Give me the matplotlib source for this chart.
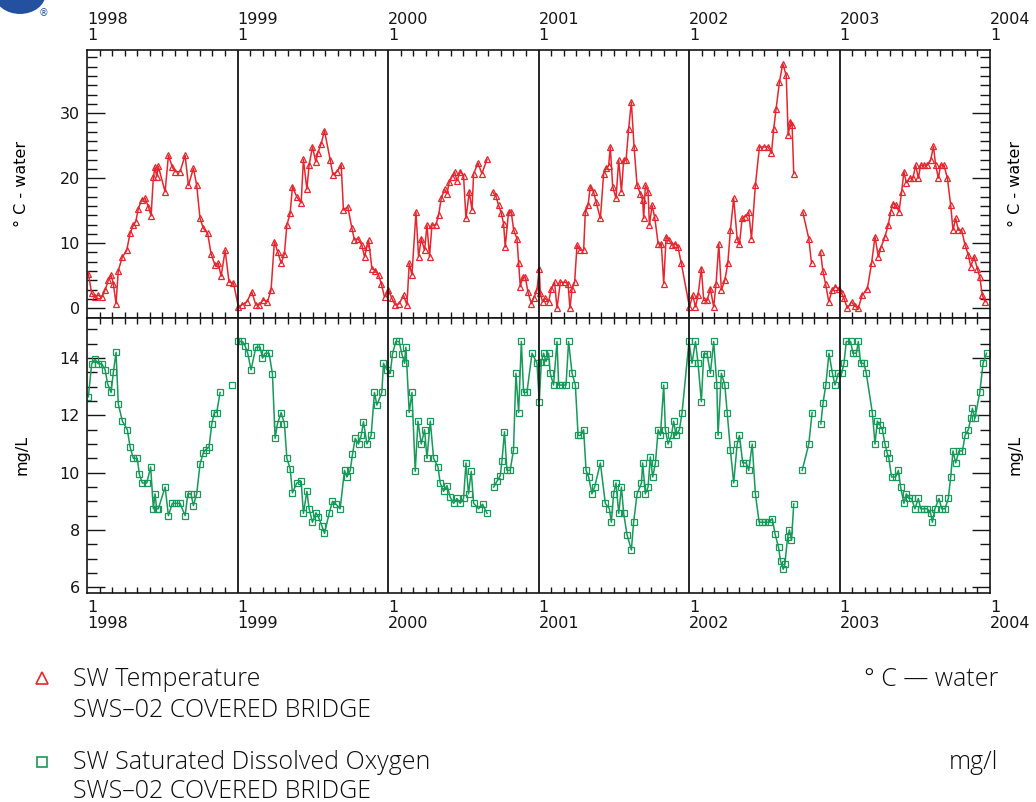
import numpy as np
import matplotlib.pyplot as plt
from matplotlib.ticker import FixedLocator, AutoMinorLocator
from matplotlib.lines import Line2D
from matplotlib.patches import Circle

nan = np.nan
years = [1998, 1999, 2000, 2001, 2002, 2003]

# SW Temperature (deg C), sample times as fraction of the year
temp98_f = [0.009, 0.031, 0.053, 0.075, 0.098, 0.12, 0.142, 0.16, 0.175, 0.193, 0.208, 0.235, 0.264, 0.286, 0.308,
            0.324, 0.341, 0.364, 0.386, 0.408, 0.426, 0.441, 0.452, 0.463, 0.474, 0.519, 0.541, 0.567, 0.585, 0.618,
            0.652, 0.674, 0.707, 0.729, 0.751, 0.773, 0.802, 0.824, 0.851, 0.873, 0.891, 0.918, 0.944, 0.973]
temp98_v = [5.3, 2.3, 1.7, 2.0, 1.7, 2.8, 4.3, 5.1, 3.8, 0.7, 5.8, 7.9, 8.9, 11.5, 12.8,
            13.3, 15.3, 16.7, 16.9, 15.6, 14.2, 20.2, 21.7, 20.2, 21.8, 17.9, 23.5, 21.7, 21.0, 21.0,
            23.5, 18.9, 21.5, 18.9, 13.8, 12.3, 11.5, 8.4, 6.6, 6.9, 4.9, 8.9, 4.0, 3.9]
temp99_f = [0.006, 0.028, 0.062, 0.095, 0.122, 0.144, 0.172, 0.199, 0.223, 0.245, 0.267, 0.29, 0.312, 0.328, 0.35,
            0.365, 0.394, 0.423, 0.438, 0.461, 0.476, 0.498, 0.52, 0.534, 0.556, 0.578, 0.616, 0.634, 0.66, 0.689,
            0.704, 0.733, 0.76, 0.777, 0.8, 0.826, 0.844, 0.86, 0.871, 0.893, 0.915, 0.937, 0.955, 0.977]
temp99_v = [0.2, 0.5, 1.0, 2.5, 0.5, 0.5, 1.3, 1.0, 2.8, 10.2, 8.7, 6.9, 8.4, 12.8, 14.6,
            18.7, 17.1, 16.2, 22.9, 18.3, 22.0, 24.8, 22.5, 23.9, 25.3, 27.3, 22.8, 20.5, 21.0, 22.0,
            15.1, 15.6, 12.3, 10.5, 10.7, 9.7, 7.9, 9.4, 10.5, 6.1, 5.8, 5.1, 3.8, 1.7]
temp00_f = [0.003, 0.026, 0.048, 0.074, 0.103, 0.126, 0.141, 0.159, 0.186, 0.203, 0.221, 0.243, 0.259, 0.276, 0.292,
            0.318, 0.336, 0.354, 0.376, 0.392, 0.407, 0.425, 0.442, 0.458, 0.48, 0.502, 0.518, 0.54, 0.558, 0.569,
            0.598, 0.624, 0.658, 0.676, 0.695, 0.717, 0.735, 0.753, 0.768, 0.779, 0.801, 0.819, 0.835, 0.857, 0.868,
            0.879, 0.894, 0.912, 0.93, 0.952, 0.967, 0.99]
temp00_v = [2.8, 1.5, 0.5, 0.7, 2.0, 0.5, 6.9, 5.1, 14.8, 7.9, 10.7, 8.9, 12.8, 7.9, 12.8,
            12.8, 14.3, 16.9, 18.3, 17.6, 19.4, 20.2, 21.0, 19.6, 21.0, 20.4, 13.8, 17.9, 15.1, 20.7,
            22.3, 20.7, 22.9, nan, 17.9, 17.2, 15.8, 14.6, 13.0, 9.4, 14.8, 14.8, 12.0, 10.7, 6.9,
            3.3, 4.8, 4.8, 2.5, 0.7, 1.5, 2.8]
temp01_f = [0.005, 0.012, 0.027, 0.045, 0.067, 0.085, 0.107, 0.123, 0.145, 0.174, 0.196, 0.209, 0.223, 0.24, 0.256,
            0.278, 0.3, 0.311, 0.329, 0.344, 0.366, 0.382, 0.411, 0.433, 0.449, 0.466, 0.477, 0.493, 0.515, 0.533,
            0.551, 0.566, 0.582, 0.599, 0.617, 0.635, 0.655, 0.677, 0.692, 0.699, 0.71, 0.728, 0.737, 0.755, 0.772,
            0.795, 0.816, 0.832, 0.848, 0.865, 0.888, 0.91, 0.927, 0.949]
temp01_v = [6.1, 2.3, 1.0, 1.5, 1.0, 3.0, 4.0, 0.0, 4.0, 4.0, 3.8, 0.0, 3.0, 4.0, 9.7,
            8.9, 8.9, 14.8, 15.8, 18.7, 17.9, 16.4, 13.8, 20.7, 21.6, 21.9, 24.8, 18.7, 16.9, 22.8,
            17.9, 22.8, 22.8, 27.6, 31.7, 24.8, 18.9, 17.6, 16.6, 13.8, 18.9, 17.9, 12.8, 15.8, 14.0,
            9.9, 9.9, 3.8, 11.0, 10.5, 9.7, 9.9, 9.4, 6.9]
temp02_f = [0.003, 0.025, 0.043, 0.06, 0.082, 0.098, 0.12, 0.142, 0.164, 0.18, 0.198, 0.215, 0.238, 0.258, 0.275,
            0.297, 0.32, 0.335, 0.353, 0.375, 0.397, 0.415, 0.441, 0.468, 0.497, 0.526, 0.548, 0.563, 0.579, 0.601,
            0.623, 0.646, 0.659, 0.674, 0.685, 0.696, 0.726, 0.756, 0.796, 0.814, 0.844, 0.874, 0.889, 0.907, 0.929,
            0.951, 0.973, 0.995]
temp02_v = [0.2, 2.0, 0.2, 2.0, 6.1, 1.2, 1.2, 3.0, 0.2, 3.8, 9.9, 2.8, 4.3, 6.9, 12.0,
            16.9, 10.7, 9.8, 13.8, 14.1, 14.8, 10.7, 18.9, 24.8, 24.8, 24.8, 23.8, 27.6, 30.7, 34.8,
            37.6, 35.8, 26.6, 28.7, 28.2, 20.7, nan, 14.8, 10.7, 6.9, nan, 8.7, 5.8, 3.8, 1.0,
            2.8, 3.3, 3.0]
temp03_f = [0.014, 0.03, 0.052, 0.08, 0.103, 0.124, 0.151, 0.185, 0.213, 0.236, 0.258, 0.273, 0.302, 0.324, 0.34,
            0.355, 0.378, 0.395, 0.413, 0.428, 0.444, 0.466, 0.488, 0.506, 0.524, 0.539, 0.561, 0.584, 0.606, 0.624,
            0.639, 0.657, 0.672, 0.694, 0.717, 0.739, 0.754, 0.772, 0.79, 0.812, 0.834, 0.856, 0.872, 0.894, 0.916,
            0.932, 0.949, 0.967]
temp03_v = [2.3, 1.5, 0.0, 1.0, 0.3, 0.0, 2.0, 3.0, 6.9, 11.0, 7.9, 9.2, 11.0, 12.8, 14.8,
            16.1, 15.8, 14.8, 17.9, 21.0, 19.3, 20.0, 20.0, 22.0, 20.0, 22.0, 22.0, 22.0, 22.8, 24.9,
            22.0, 20.0, 22.0, 22.0, 20.0, 15.8, 12.0, 13.8, 12.0, 12.0, 9.7, 8.2, 6.4, 7.9, 6.1,
            4.8, 2.0, 1.0]

# SW Saturated Dissolved Oxygen (mg/L)
do98_f = [0.009, 0.031, 0.053, 0.075, 0.098, 0.12, 0.137, 0.16, 0.175, 0.193, 0.208, 0.235, 0.268, 0.286, 0.308,
          0.334, 0.348, 0.368, 0.397, 0.423, 0.441, 0.452, 0.463, 0.474, 0.519, 0.541, 0.567, 0.59, 0.618, 0.652,
          0.67, 0.691, 0.707, 0.729, 0.751, 0.773, 0.789, 0.811, 0.829, 0.846, 0.862, 0.884, 0.92, 0.962, 0.99]
do98_v = [12.65, 13.8, 13.96, 13.8, 13.8, 13.6, 13.1, 12.8, 13.5, 14.2, 12.4, 11.8, 11.5, 10.9, 10.5,
          10.5, 9.94, 9.64, 9.64, 10.2, 8.74, 9.26, 8.74, 8.74, 9.5, 8.5, 8.93, 8.93, 8.93, 8.5,
          9.26, 9.26, 8.85, 9.26, 10.3, 10.7, 10.8, 10.9, 11.7, 12.1, 12.1, 12.8, nan, 13.06, nan]
do99_f = [0.006, 0.033, 0.05, 0.068, 0.09, 0.122, 0.15, 0.166, 0.183, 0.21, 0.232, 0.25, 0.265, 0.29, 0.312,
          0.328, 0.35, 0.365, 0.394, 0.423, 0.438, 0.461, 0.476, 0.498, 0.521, 0.538, 0.56, 0.578, 0.609, 0.631,
          0.654, 0.682, 0.711, 0.727, 0.749, 0.764, 0.782, 0.804, 0.822, 0.837, 0.86, 0.888, 0.91, 0.926, 0.959,
          0.97, 0.993]
do99_v = [14.58, 14.58, 14.43, 14.17, 13.59, 14.38, 14.38, 14.0, 14.17, 14.17, 13.45, 11.2, 11.7, 12.1, 11.7,
          10.5, 10.14, 9.3, 9.64, 9.7, 8.58, 9.35, 8.74, 8.27, 8.6, 8.45, 8.15, 7.88, 8.58, 9.0,
          8.9, 8.74, 10.08, 9.85, 10.08, 10.64, 11.2, 11.0, 11.3, 11.78, 11.0, 11.3, 12.8, 12.36, 12.8,
          13.82, 13.6]
do00_f = [0.015, 0.03, 0.052, 0.074, 0.092, 0.11, 0.119, 0.141, 0.159, 0.181, 0.199, 0.221, 0.243, 0.259, 0.281,
          0.303, 0.332, 0.347, 0.369, 0.392, 0.414, 0.436, 0.458, 0.48, 0.502, 0.518, 0.535, 0.553, 0.569, 0.602,
          0.628, 0.658, 0.68, 0.702, 0.724, 0.746, 0.757, 0.774, 0.79, 0.812, 0.834, 0.85, 0.868, 0.886, 0.901,
          0.923, 0.957, 0.99]
do00_v = [13.47, 14.15, 14.58, 14.58, 14.15, 13.82, 14.38, 12.1, 12.8, 10.05, 11.8, 11.0, 11.5, 10.5, 11.8,
          10.5, 10.2, 9.64, 9.35, 9.55, 9.14, 8.93, 9.1, 8.93, 9.1, 10.34, 9.26, 10.05, 8.93, 8.74,
          8.9, 8.58, nan, 9.5, 9.7, 9.9, 10.4, 11.43, 10.08, 10.08, 10.8, 13.47, 12.1, 14.58, 12.8,
          12.8, 14.17, 13.82]
do01_f = [0.005, 0.019, 0.034, 0.05, 0.067, 0.078, 0.1, 0.123, 0.134, 0.156, 0.183, 0.2, 0.223, 0.245, 0.263,
          0.278, 0.3, 0.316, 0.333, 0.355, 0.373, 0.411, 0.444, 0.471, 0.484, 0.499, 0.515, 0.533, 0.551, 0.566,
          0.588, 0.617, 0.632, 0.655, 0.684, 0.692, 0.71, 0.728, 0.743, 0.759, 0.777, 0.795, 0.81, 0.832, 0.843,
          0.861, 0.883, 0.898, 0.914, 0.936, 0.954]
do01_v = [12.48, 13.88, 14.17, 13.88, 14.17, 13.47, 13.06, 14.58, 13.06, 13.06, 13.06, 14.58, 13.47, 13.06, 11.3,
          11.3, 11.5, 10.08, 9.85, 9.26, 9.5, 10.34, 8.93, 8.74, 8.27, 9.26, 9.64, 8.58, 9.5, 8.58,
          7.84, 7.3, 8.27, 9.26, 9.64, 10.34, 9.26, 9.5, 10.55, 9.85, 10.34, 11.5, 11.3, 13.06, 11.5,
          11.0, 11.3, 11.8, 11.3, 11.5, 12.1]
do02_f = [0.0, 0.02, 0.043, 0.06, 0.082, 0.098, 0.12, 0.142, 0.164, 0.185, 0.193, 0.215, 0.238, 0.254, 0.275,
          0.297, 0.32, 0.335, 0.357, 0.38, 0.397, 0.42, 0.441, 0.466, 0.486, 0.508, 0.533, 0.553, 0.572, 0.595,
          0.608, 0.626, 0.637, 0.655, 0.667, 0.681, 0.696, 0.724, 0.752, 0.796, 0.818, 0.847, 0.876, 0.891, 0.909,
          0.93, 0.953, 0.97, 0.992]
do02_v = [14.58, 13.82, 14.58, 13.82, 12.48, 14.15, 14.15, 13.47, 14.58, 13.06, 11.3, 13.47, 13.06, 12.1, 10.8,
          9.64, 11.0, 11.3, 10.34, 10.34, 10.08, 11.0, 9.26, 8.27, 8.27, 8.27, 8.27, 8.4, 7.86, 7.39,
          6.92, 6.63, 6.8, 7.74, 8.0, 7.64, 8.91, nan, 10.08, 11.0, 12.1, nan, 11.7, 12.45, 13.06,
          14.17, 13.47, 13.06, 13.47]
do03_f = [0.014, 0.03, 0.045, 0.074, 0.089, 0.112, 0.125, 0.14, 0.162, 0.178, 0.218, 0.236, 0.251, 0.267, 0.285,
          0.302, 0.318, 0.328, 0.346, 0.373, 0.391, 0.406, 0.428, 0.444, 0.461, 0.479, 0.501, 0.524, 0.539, 0.561,
          0.584, 0.606, 0.617, 0.634, 0.661, 0.679, 0.701, 0.723, 0.739, 0.754, 0.772, 0.794, 0.817, 0.834, 0.856,
          0.872, 0.883, 0.9, 0.932, 0.954, 0.977]
do03_v = [13.47, 13.82, 14.58, 14.58, 14.17, 14.17, 14.58, 13.82, 13.82, 13.47, 12.1, 11.0, 11.8, 11.68, 11.5,
          11.0, 10.67, 10.5, 9.85, 9.85, 10.08, 9.5, 8.93, 9.26, 9.1, 9.1, 8.74, 9.1, 8.74, 8.74,
          8.74, 8.58, 8.27, 8.74, 9.1, 8.74, 8.74, 9.1, 9.85, 10.76, 10.34, 10.76, 10.76, 11.3, 11.5,
          11.9, 12.25, 11.9, 12.8, 13.82, 14.17]

temp_f = [temp98_f, temp99_f, temp00_f, temp01_f, temp02_f, temp03_f]
temp_v = [temp98_v, temp99_v, temp00_v, temp01_v, temp02_v, temp03_v]
do_f = [do98_f, do99_f, do00_f, do01_f, do02_f, do03_f]
do_v = [do98_v, do99_v, do00_v, do01_v, do02_v, do03_v]

red = '#e5262e'
green = '#17995a'


def join_years(fr, vals):
    xs, ys = [], []
    for yr, f, v in zip(years, fr, vals):
        for a, b in zip(f, v):
            xs.append(yr + a)
            ys.append(b)
    return np.array(xs), np.array(ys)


fig = plt.figure(figsize=(10.36, 8.02), dpi=100)
L, W = 87 / 1036, (990 - 87) / 1036
ax1 = fig.add_axes([L, 1 - 318 / 802, W, 268 / 802])
ax2 = fig.add_axes([L, 1 - 593 / 802, W, 275 / 802])

tx, ty = join_years(temp_f, temp_v)
ax1.plot(tx, ty, color=red, lw=1.1, marker='^', ms=4.5, mfc='none', mec=red, mew=0.9)
ox, oy = join_years(do_f, do_v)
ax2.plot(ox, oy, color=green, lw=1.1, marker='s', ms=3.8, mfc='none', mec=green, mew=0.9)

months = [yr + m / 12 for yr in years for m in range(1, 12)]
for ax in (ax1, ax2):
    ax.set_xlim(1998, 2004)
    for yr in years[1:]:
        ax.axvline(yr, color='#151515', lw=1.3, zorder=3)
    ax.xaxis.set_major_locator(FixedLocator(list(range(1998, 2005))))
    ax.xaxis.set_minor_locator(FixedLocator(months))
    ax.tick_params(axis='x', which='major', length=0, top=True, bottom=True, labelsize=11.5, pad=5, colors='#151515')
    ax.tick_params(axis='x', which='minor', length=4, width=1, direction='in', top=True, bottom=True, color='#151515')
    ax.tick_params(axis='y', which='major', length=13, width=1, direction='in', left=True, right=True,
                   labelsize=11.5, pad=5, colors='#151515')
    ax.tick_params(axis='y', which='minor', length=7, width=1, direction='in', left=True, right=True, color='#151515')
    for s in ax.spines.values():
        s.set_linewidth(1.2)
        s.set_color('#151515')

ax1.set_ylim(-1.5, 39.7)
ax1.set_yticks([0, 10, 20, 30])
ax1.yaxis.set_minor_locator(AutoMinorLocator(7))
ax1.set_xticklabels([f"{y}\n1" for y in range(1998, 2005)])
ax1.tick_params(axis='x', which='major', labeltop=True, labelbottom=False)

ax2.set_ylim(5.8, 15.4)
ax2.set_yticks([6, 8, 10, 12, 14])
ax2.yaxis.set_minor_locator(AutoMinorLocator(4))
ax2.set_xticklabels([f"1\n{y}" for y in range(1998, 2005)])
ax2.tick_params(axis='x', which='major', labeltop=False, labelbottom=True)

for ax in (ax1, ax2):
    for t in ax.xaxis.get_major_ticks():
        for lab in (t.label1, t.label2):
            lab.set_horizontalalignment('left')
            lab.set_linespacing(1.05)

# axis titles on both sides
for xp in (22, 1015):
    fig.text(xp / 1036, 1 - 184 / 802, '° C - water', rotation=90, ha='center', va='center', fontsize=11.5)
    fig.text(xp / 1036, 1 - 455 / 802, 'mg/L', rotation=90, ha='center', va='center', fontsize=11.5)

# logo in the corner
fig.add_artist(Circle((20 / 1036, 1 + 6 / 802), 0.024, transform=fig.transFigure, color='#23519f', clip_on=False))
fig.text(43 / 1036, 1 - 13 / 802, '®', fontsize=7, color='#23519f', ha='center', va='center')

# key below the chart
lf = 'Open Sans'
fs = 18
ink = '#0d0d0d'
kw = dict(family=lf, fontsize=fs, color=ink, va='baseline', fontweight='light')
fig.add_artist(Line2D([42 / 1036], [1 - 678 / 802], transform=fig.transFigure, marker='^', ms=8,
                      mfc='none', mec=red, mew=1.2, ls='none'))
fig.add_artist(Line2D([42 / 1036], [1 - 762 / 802], transform=fig.transFigure, marker='s', ms=7,
                      mfc='none', mec=green, mew=1.2, ls='none'))
fig.text(73 / 1036, 1 - 686 / 802, 'SW Temperature', **kw)
fig.text(73 / 1036, 1 - 717 / 802, 'SWS–02 COVERED BRIDGE', **kw)
fig.text(998 / 1036, 1 - 686 / 802, '° C — water', ha='right', **kw)
fig.text(73 / 1036, 1 - 769 / 802, 'SW Saturated Dissolved Oxygen', **kw)
fig.text(73 / 1036, 1 - 798 / 802, 'SWS–02 COVERED BRIDGE', **kw)
fig.text(998 / 1036, 1 - 769 / 802, 'mg/l', ha='right', **kw)

fig.savefig('out.png', dpi=100)
